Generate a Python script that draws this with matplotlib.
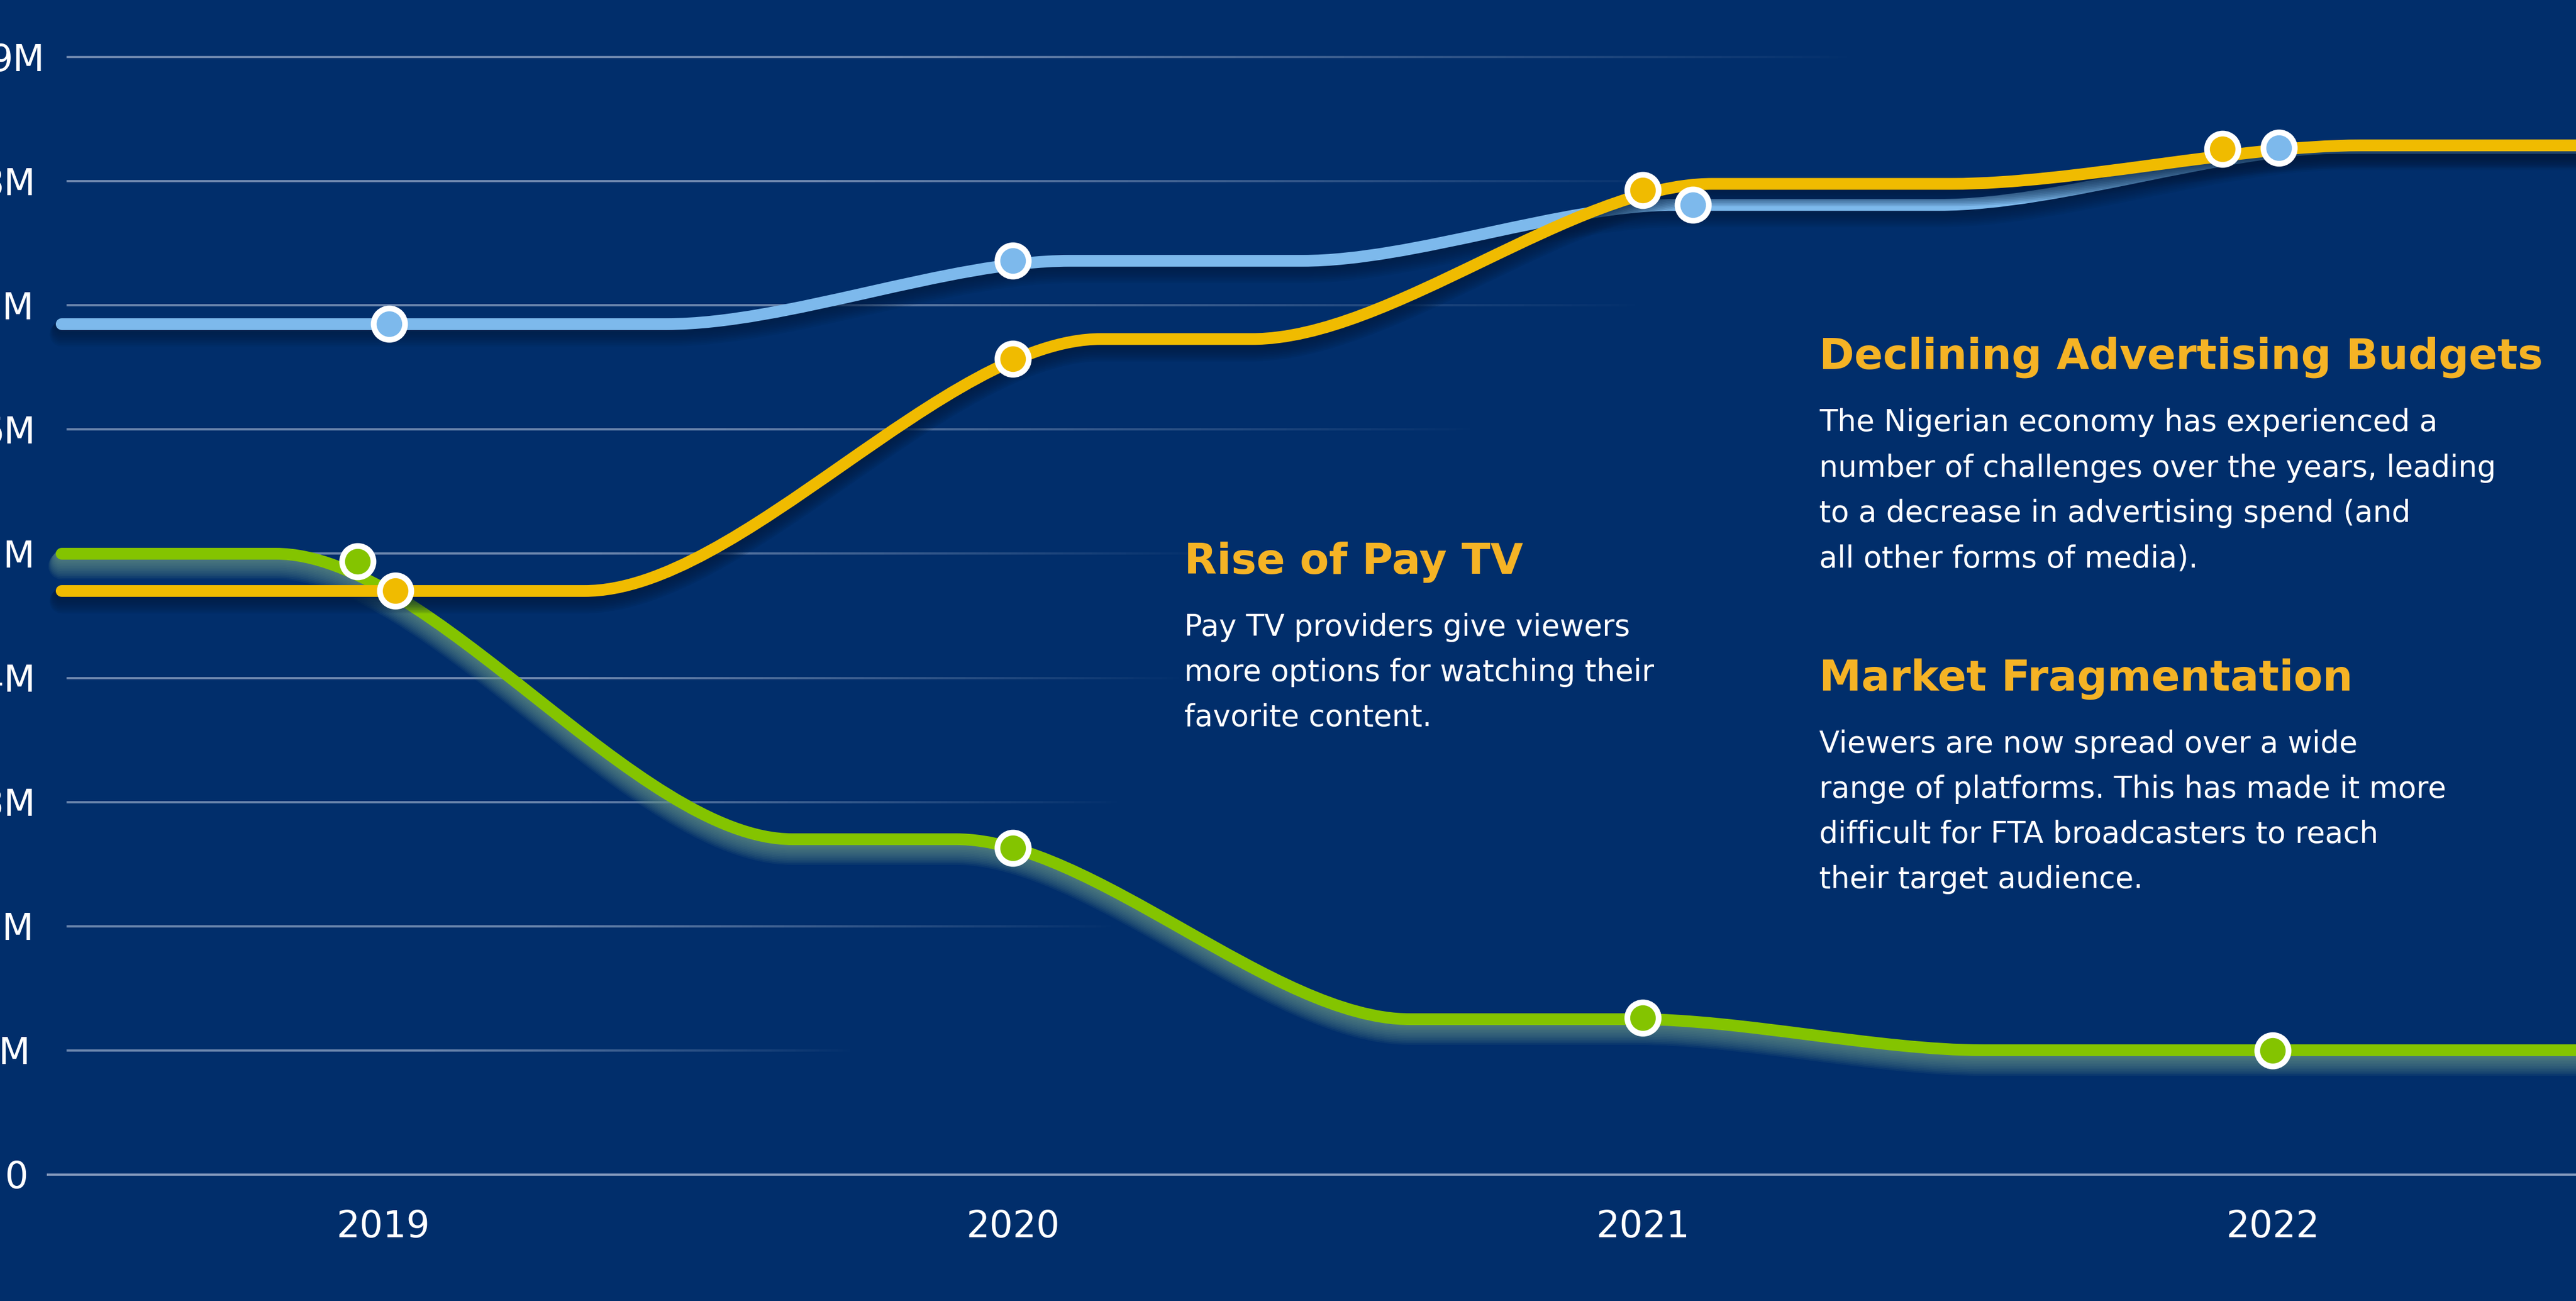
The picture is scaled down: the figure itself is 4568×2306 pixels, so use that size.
import numpy as np
import matplotlib
matplotlib.use("Agg")
import matplotlib.pyplot as plt
from matplotlib.path import Path
from matplotlib.patches import PathPatch
from matplotlib.collections import LineCollection
import matplotlib.patheffects as pe

# ---------------- data ----------------
years = [2019, 2020, 2021, 2022]
year_labels = ["2019", "2020", "2021", "2022"]
ytick_values = [0, 1, 2, 3, 4, 5, 6, 7, 8, 9]
ytick_labels = ["0", "1M", "2M", "3M", "4M", "5M", "6M", "7M", "8M", "9M"]

# line knots (year, millions)
blue_knot_x = [2018.49, 2019.45, 2020.09, 2020.46, 2021.05, 2021.47, 2022.11, 2022.60]
blue_knot_y = [6.85, 6.85, 7.36, 7.36, 7.81, 7.81, 8.27, 8.27]
yellow_knot_x = [2018.49, 2019.32, 2020.14, 2020.38, 2021.11, 2021.49, 2022.14, 2022.60]
yellow_knot_y = [4.70, 4.70, 6.73, 6.73, 7.98, 7.98, 8.29, 8.29]
green_knot_x = [2018.49, 2018.83, 2019.65, 2019.91, 2020.63, 2020.99, 2021.54, 2022.60]
green_knot_y = [5.00, 5.00, 2.70, 2.70, 1.25, 1.25, 1.00, 1.00]

# marker points
blue_marker_x = [2019.01, 2020.00, 2021.08, 2022.01]
blue_marker_y = [6.85, 7.36, 7.81, 8.27]
yellow_marker_x = [2019.02, 2020.00, 2021.00, 2021.92]
yellow_marker_y = [4.70, 6.57, 7.93, 8.26]
green_marker_x = [2018.96, 2020.00, 2021.00, 2022.00]
green_marker_y = [4.94, 2.63, 1.26, 1.00]

heading_pay = "Rise of Pay TV"
body_pay = ["Pay TV providers give viewers",
            "more options for watching their",
            "favorite content."]
heading_ads = "Declining Advertising Budgets"
body_ads = ["The Nigerian economy has experienced a",
            "number of challenges over the years, leading",
            "to a decrease in advertising spend (and",
            "all other forms of media)."]
heading_frag = "Market Fragmentation"
body_frag = ["Viewers are now spread over a wide",
             "range of platforms. This has made it more",
             "difficult for FTA broadcasters to reach",
             "their target audience."]

# ---------------- style ----------------
W, H = 4568, 2306
BG = "#012E6B"
BLUE = "#7DB9EC"
YELLOW = "#F0BB00"
GREEN = "#84C400"
ORANGE = "#F5B325"
plt.rcParams["font.family"] = ["DejaVu Sans"]

def px2x(px):
    return 2019 + (px - 679) / 1117.0

def py2y(py):
    return (2081.5 - py) / 220.0

fig = plt.figure(figsize=(W / 100, H / 100), dpi=100, facecolor=BG)
ax = fig.add_axes([0, 0, 1, 1])
ax.set_facecolor(BG)
ax.set_xlim(px2x(0), px2x(W))
ax.set_ylim(py2y(H), py2y(0))
ax.axis("off")

# ---- faded gridlines ----
grid_end_px = {1: 1515, 2: 1980, 3: 1990, 4: 2100, 5: 2150, 6: 2620, 7: 2913, 8: 3000, 9: 3292}
for v in ytick_values[1:]:
    x0, x1 = px2x(118), px2x(grid_end_px[v])
    xs = np.linspace(x0, x1, 200)
    segs = [[(xs[i], v), (xs[i + 1], v)] for i in range(len(xs) - 1)]
    s = (xs[:-1] - x0) / (x1 - x0)
    alpha = 0.5 * np.clip((1 - s) / 0.55, 0, 1)
    cols = [(0.85, 0.88, 0.95, a) for a in alpha]
    ax.add_collection(LineCollection(segs, colors=cols, linewidths=2.8,
                                     capstyle="butt", zorder=1))
ax.plot([px2x(83), px2x(W)], [0, 0], color=(0.85, 0.88, 0.95, 0.6), lw=2.8,
        solid_capstyle="butt", zorder=1)

# ---- smooth lines ----
def smooth_path(xs, ys, k=0.3):
    verts = [(xs[0], ys[0])]
    codes = [Path.MOVETO]
    for i in range(len(xs) - 1):
        h = xs[i + 1] - xs[i]
        verts += [(xs[i] + k * h, ys[i]), (xs[i + 1] - k * h, ys[i + 1]), (xs[i + 1], ys[i + 1])]
        codes += [Path.CURVE4] * 3
    return Path(verts, codes)

def shadow_fx(color, steps, alpha, lw, step_off, step_w):
    fx = []
    for i in range(steps, 0, -1):
        fx.append(pe.SimpleLineShadow(offset=(0, -step_off * i), shadow_color=color,
                                      alpha=alpha, linewidth=lw + step_w * i))
    fx.append(pe.Normal())
    return fx

LW = 15
series = [
    (green_knot_x, green_knot_y, GREEN, "#6E9C8C", 0.09, 2, 12, 1.3, 1.6),
    (blue_knot_x, blue_knot_y, BLUE, "#001B40", 0.10, 3, 10, 1.3, 1.6),
    (yellow_knot_x, yellow_knot_y, YELLOW, "#001B40", 0.12, 4, 10, 1.3, 1.6),
]
for kx, ky, col, shcol, sha, z, steps, so, sw in series:
    patch = PathPatch(smooth_path(kx, ky), fill=False, edgecolor=col, lw=LW,
                      capstyle="round", joinstyle="round", zorder=z)
    patch.set_path_effects(shadow_fx(shcol, steps, sha, LW, so, sw))
    ax.add_patch(patch)

for mx, my, col in [(green_marker_x, green_marker_y, GREEN),
                    (blue_marker_x, blue_marker_y, BLUE),
                    (yellow_marker_x, yellow_marker_y, YELLOW)]:
    ax.plot(mx, my, "o", ms=40, mfc=col, mec="white", mew=7.3, ls="none", zorder=6)

# ---- axis labels ----
ylabel_right_px = [50, 55, 60, 63, 64, 62, 63, 60, 63, 80]
for v, lab, rpx in zip(ytick_values, ytick_labels, ylabel_right_px):
    ax.text(px2x(rpx), v - 0.11, lab, ha="right", va="baseline",
            color="white", fontsize=47, zorder=7)
for yr, lab in zip(years, year_labels):
    ax.text(yr, py2y(2193), lab, ha="center", va="baseline",
            color="white", fontsize=47, zorder=7)

# ---- annotations ----
def put(px, py, s, **kw):
    fig.text(px / W, 1 - py / H, s, va="baseline", ha="left", **kw)

HS = 54
BS = 38
put(2100, 1017, heading_pay, color=ORANGE, fontsize=HS, fontweight="bold")
for i, line in enumerate(body_pay):
    put(2100, 1127 + 80 * i, line, color="white", fontsize=BS)

put(3226, 654, heading_ads, color=ORANGE, fontsize=HS, fontweight="bold")
for i, line in enumerate(body_ads):
    put(3226, 764 + 80.5 * i, line, color="white", fontsize=BS)

put(3226, 1223, heading_frag, color=ORANGE, fontsize=HS, fontweight="bold")
for i, line in enumerate(body_frag):
    put(3226, 1334 + 80 * i, line, color="white", fontsize=BS)

fig.savefig("out.png", dpi=100, facecolor=BG)
